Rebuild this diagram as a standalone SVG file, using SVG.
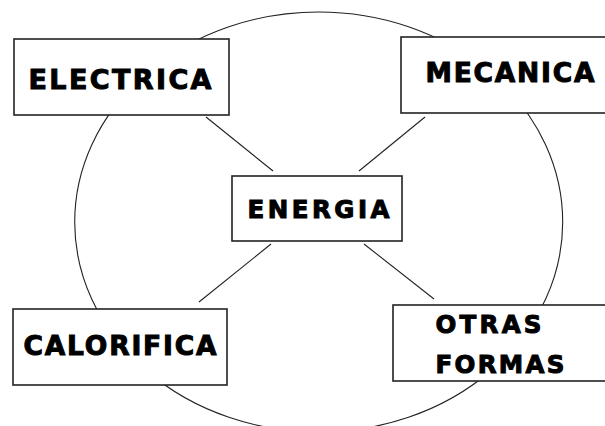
<svg xmlns="http://www.w3.org/2000/svg" width="605" height="426" viewBox="0 0 605 426">
<style>
.box{fill:#fff;stroke:#222;stroke-width:1.6}
.lbl{font-family:"DejaVu Sans","Liberation Sans",Arial,sans-serif;font-weight:bold;fill:#000;stroke:#000;stroke-width:1}
.ln{stroke:#222;stroke-width:1.1;fill:none}
</style>
<rect width="605" height="426" fill="#fff"/>
<g id="connectors">
<ellipse class="ln" cx="318.7" cy="222" rx="244" ry="210"/>
<line class="ln" x1="206" y1="117" x2="273" y2="171"/>
<line class="ln" x1="425" y1="117" x2="359" y2="171"/>
<line class="ln" x1="271" y1="244" x2="199" y2="302"/>
<line class="ln" x1="364" y1="244" x2="434" y2="299"/>
</g>
<g id="electrica">
<rect class="box" x="14" y="39" width="215" height="76"/>
<text class="lbl" x="28.5" y="88.5" font-size="27" textLength="183" lengthAdjust="spacing">ELECTRICA</text>
</g>
<g id="mecanica">
<rect class="box" x="401" y="37" width="212" height="76"/>
<text class="lbl" x="425.5" y="81.5" font-size="26.5" textLength="169" lengthAdjust="spacing">MECANICA</text>
</g>
<g id="energia">
<rect class="box" x="232" y="176" width="170" height="65"/>
<text class="lbl" x="247.5" y="217.5" font-size="24.5" textLength="142" lengthAdjust="spacing">ENERGIA</text>
</g>
<g id="calorifica">
<rect class="box" x="13" y="309" width="214" height="76"/>
<text class="lbl" x="23.5" y="354.5" font-size="26.5" textLength="193" lengthAdjust="spacing">CALORIFICA</text>
</g>
<g id="otras">
<rect class="box" x="393" y="305" width="220" height="76"/>
<text class="lbl" x="435.5" y="332.5" font-size="24.5" textLength="106" lengthAdjust="spacing">OTRAS</text>
<text class="lbl" x="435.5" y="372.5" font-size="24.5" textLength="129" lengthAdjust="spacing">FORMAS</text>
</g>
</svg>
